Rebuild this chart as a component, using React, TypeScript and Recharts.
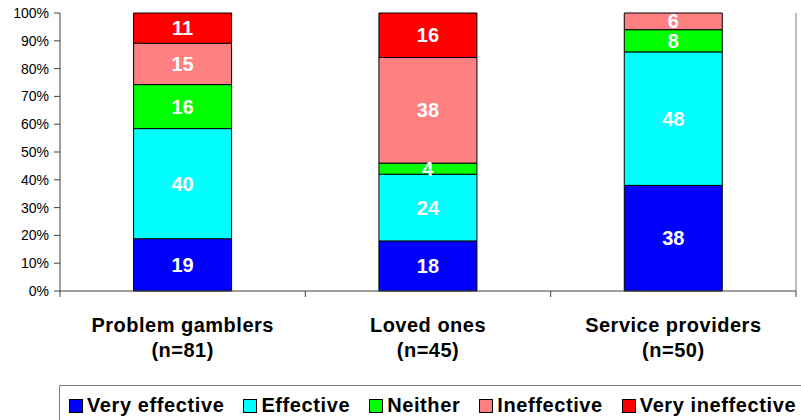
import React from "react";
import { Bar, BarChart, LabelList, XAxis, YAxis } from "recharts";

const groups = ["Problem gamblers", "Loved ones", "Service providers"];
const sampleSizes = ["(n=81)", "(n=45)", "(n=50)"];

const veryEffective = [19, 18, 38];
const effective = [40, 24, 48];
const neither = [16, 4, 8];
const ineffective = [15, 38, 6];
const veryIneffective = [11, 16, 0];

const yTicks = [0, 0.1, 0.2, 0.3, 0.4, 0.5, 0.6, 0.7, 0.8, 0.9, 1];

const series = [
  { key: "veryEffective", label: "Very effective", color: "#0000ff" },
  { key: "effective", label: "Effective", color: "#00ffff" },
  { key: "neither", label: "Neither", color: "#00ff00" },
  { key: "ineffective", label: "Ineffective", color: "#ff8080" },
  { key: "veryIneffective", label: "Very ineffective", color: "#ff0000" }
];

const rows = groups.map((name, i) => ({
  name,
  n: sampleSizes[i],
  veryEffective: veryEffective[i],
  effective: effective[i],
  neither: neither[i],
  ineffective: ineffective[i],
  veryIneffective: veryIneffective[i]
}));

const WIDTH = 801;
const HEIGHT = 420;
const PLOT_LEFT = 60;
const PLOT_RIGHT = 796;
const BAND = (PLOT_RIGHT - PLOT_LEFT) / groups.length;
const FONT = "'Liberation Sans', Arial, sans-serif";

function GroupTick(props: any) {
  const { x, y, payload, index } = props;
  const row = rows[index];
  return (
    <g>
      {index === 0 && (
        <line x1={x - BAND / 2} x2={x - BAND / 2} y1={y - 6} y2={y} stroke="#404040" />
      )}
      <line x1={x + BAND / 2} x2={x + BAND / 2} y1={y - 6} y2={y} stroke="#404040" />
      <text x={x} y={y + 35} textAnchor="middle" fontFamily={FONT} fontWeight="bold" fontSize={20} letterSpacing={0.5} fill="#000">
        {payload.value}
      </text>
      <text x={x} y={y + 60} textAnchor="middle" fontFamily={FONT} fontWeight="bold" fontSize={20} letterSpacing={0.5} fill="#000">
        {row ? row.n : ""}
      </text>
    </g>
  );
}

const hideZero = (v: any) => (v ? v : "");

export default function App() {
  return (
    <div style={{ position: "absolute", left: 0, top: 0, width: WIDTH, height: HEIGHT, background: "#fff", overflow: "hidden" }}>
      <BarChart
        width={WIDTH}
        height={HEIGHT}
        data={rows}
        stackOffset="expand"
        barCategoryGap="30%"
        margin={{ top: 13, right: 0, left: 0, bottom: 59 }}
      >
        <XAxis
          dataKey="name"
          xAxisId="top"
          orientation="top"
          height={0}
          tick={false}
          tickLine={false}
          axisLine={{ stroke: "#808080" }}
        />
        <XAxis
          dataKey="name"
          height={70}
          tickLine={false}
          tickSize={6}
          tickMargin={0}
          axisLine={{ stroke: "#404040" }}
          tick={<GroupTick />}
          interval={0}
        />
        <YAxis
          width={60}
          domain={[0, 1]}
          ticks={yTicks}
          tickFormatter={(v: number) => `${Math.round(v * 100)}%`}
          tickSize={6}
          tickMargin={5}
          axisLine={{ stroke: "#404040" }}
          tickLine={{ stroke: "#404040" }}
          tick={{ fill: "#000", fontSize: 14, fontFamily: FONT }}
        />
        <YAxis
          yAxisId="right"
          orientation="right"
          width={5}
          tick={false}
          tickLine={false}
          axisLine={{ stroke: "#808080" }}
        />
        {series.map((s) => (
          <Bar
            key={s.key}
            dataKey={s.key}
            stackId="a"
            fill={s.color}
            stroke="#000"
            strokeWidth={1}
            isAnimationActive={false}
          >
            <LabelList
              dataKey={s.key}
              position="center"
              formatter={hideZero}
              fill="#fff"
              fontSize={20}
              fontWeight="bold"
              fontFamily={FONT}
            />
          </Bar>
        ))}
      </BarChart>
      <div
        style={{
          position: "absolute",
          left: 59,
          top: 385,
          width: 780,
          height: 60,
          border: "1px solid #808080",
          background: "#fff",
          display: "flex",
          alignItems: "flex-start",
          paddingTop: 8,
          paddingLeft: 9,
          boxSizing: "border-box",
          fontFamily: FONT,
          fontWeight: "bold",
          fontSize: 20,
          letterSpacing: 0.6,
          color: "#000",
          whiteSpace: "nowrap"
        }}
      >
        {series.map((s) => (
          <div key={s.key} style={{ display: "flex", alignItems: "center", marginRight: 19 }}>
            <span
              style={{
                display: "inline-block",
                width: 12,
                height: 12,
                background: s.color,
                border: "1px solid #000",
                marginRight: 4
              }}
            />
            <span>{s.label}</span>
          </div>
        ))}
      </div>
    </div>
  );
}
